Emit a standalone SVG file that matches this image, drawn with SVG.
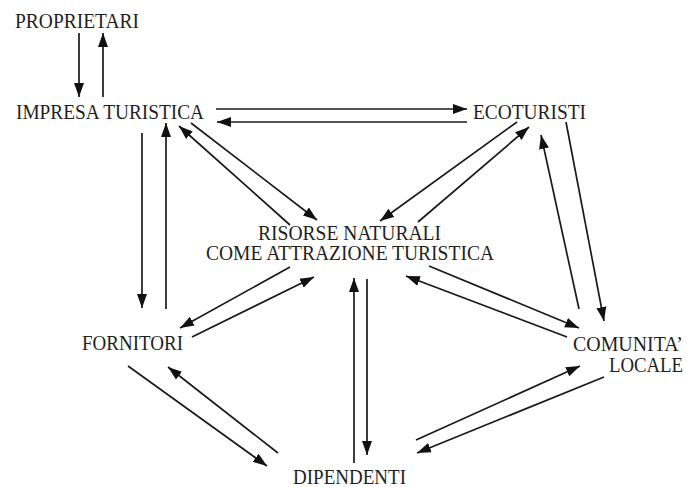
<svg xmlns="http://www.w3.org/2000/svg" width="687" height="487" viewBox="0 0 687 487">
<style>
.t{font-family:"Liberation Serif","Times New Roman",serif;font-size:20px;fill:#1f1f1f}
.c line{stroke:#1a1a1a;stroke-width:1.7;marker-end:url(#ah)}
</style>
<defs>
<marker id="ah" markerUnits="userSpaceOnUse" markerWidth="14" markerHeight="11" refX="14" refY="5" orient="auto" viewBox="0 0 14 10">
<path d="M0,0 L14,5 L0,10 z" fill="#111"/>
</marker>
</defs>
<rect width="687" height="487" fill="#fff"/>
<g class="c" id="connectors">
<line x1="79" y1="33" x2="79" y2="97"/>
<line x1="103" y1="97" x2="103" y2="33"/>
<line x1="216" y1="109" x2="467" y2="109"/>
<line x1="467" y1="122" x2="217" y2="122"/>
<line x1="191" y1="123" x2="317" y2="220"/>
<line x1="290" y1="225" x2="179" y2="126"/>
<line x1="517" y1="122" x2="380" y2="221"/>
<line x1="418" y1="222" x2="529" y2="127"/>
<line x1="566" y1="122" x2="604" y2="321"/>
<line x1="579" y1="309" x2="541" y2="135"/>
<line x1="429" y1="266" x2="579" y2="328"/>
<line x1="567" y1="337" x2="406" y2="276"/>
<line x1="604" y1="377" x2="417" y2="453"/>
<line x1="416" y1="440" x2="580" y2="366"/>
<line x1="367" y1="279" x2="367" y2="455"/>
<line x1="354" y1="463" x2="354" y2="278"/>
<line x1="142" y1="133" x2="142" y2="308"/>
<line x1="166" y1="309" x2="166" y2="123"/>
<line x1="290" y1="267" x2="180" y2="328"/>
<line x1="192" y1="337" x2="314" y2="277"/>
<line x1="128" y1="366" x2="267" y2="466"/>
<line x1="278" y1="453" x2="168" y2="367"/>
</g>
<g id="proprietari"><text class="t" x="15" y="28" textLength="124" lengthAdjust="spacingAndGlyphs">PROPRIETARI</text></g>
<g id="impresa"><text class="t" x="16" y="119" textLength="188" lengthAdjust="spacingAndGlyphs">IMPRESA TURISTICA</text></g>
<g id="ecoturisti"><text class="t" x="473" y="119" textLength="113" lengthAdjust="spacingAndGlyphs">ECOTURISTI</text></g>
<g id="risorse"><text class="t" x="258" y="240" textLength="183" lengthAdjust="spacingAndGlyphs">RISORSE NATURALI</text><text class="t" x="206" y="260" textLength="288" lengthAdjust="spacingAndGlyphs">COME ATTRAZIONE TURISTICA</text></g>
<g id="fornitori"><text class="t" x="82" y="350" textLength="101" lengthAdjust="spacingAndGlyphs">FORNITORI</text></g>
<g id="comunita"><text class="t" x="573" y="351" textLength="110" lengthAdjust="spacingAndGlyphs">COMUNITA’</text><text class="t" x="609" y="372" textLength="74" lengthAdjust="spacingAndGlyphs">LOCALE</text></g>
<g id="dipendenti"><text class="t" x="293" y="484" textLength="113" lengthAdjust="spacingAndGlyphs">DIPENDENTI</text></g>
</svg>
